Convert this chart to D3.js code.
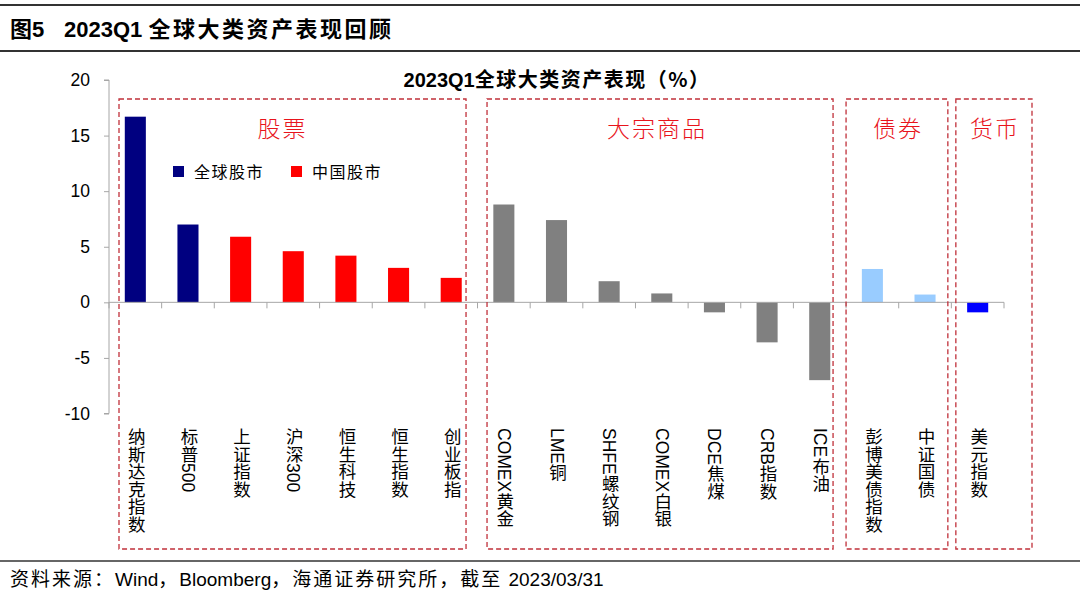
<!DOCTYPE html>
<html>
<head>
<meta charset="utf-8">
<script src="https://cdn.jsdelivr.net/npm/d3@7"></script>
<style>
  body { margin: 0; background: #fff; }
  svg text { font-family: "Liberation Sans", Arial, "Noto Sans CJK SC", sans-serif; }
  .cjk { font-family: "Noto Sans CJK SC", sans-serif; }
</style>
</head>
<body>
<div id="drawing-area" style="width:1080px;height:595px;"></div>
<script>
// data
var categories = ["纳斯达克指数", "标普500", "上证指数", "沪深300", "恒生科技", "恒生指数", "创业板指",
    "COMEX黄金", "LME铜", "SHFE螺纹钢", "COMEX白银", "DCE焦煤", "CRB指数", "ICE布油",
    "彭博美债指数", "中证国债", "美元指数"];
var values = [16.7, 7.0, 5.9, 4.6, 4.2, 3.1, 2.2,
    8.8, 7.4, 1.9, 0.8, -0.9, -3.6, -7.0,
    3.0, 0.7, -0.9];
var kinds = ["global", "global", "china", "china", "china", "china", "china",
    "comm", "comm", "comm", "comm", "comm", "comm", "comm",
    "bond", "bond", "fx"];
var groupNames = ["股票", "大宗商品", "债券", "货币"];
var groupFirst = [0, 7, 14, 16];
var groupLast = [6, 13, 15, 16];
var yTicks = [-10, -5, 0, 5, 10, 15, 20];
var legendKinds = ["global", "china"];
var legendLabels = ["全球股市", "中国股市"];

var colors = { global: "#000080", china: "#FF0000", comm: "#808080", bond: "#99CCFF", fx: "#0000FF" };

var sx = 1080, sy = 595;
var svg = d3.select('#drawing-area').append('svg').attr('width', sx).attr('height', sy);

// figure header
svg.append("line").attr("x1", 0).attr("x2", sx).attr("y1", 5).attr("y2", 5)
    .attr("stroke", "#333").attr("stroke-width", 2);
svg.append("line").attr("x1", 0).attr("x2", sx).attr("y1", 51).attr("y2", 51)
    .attr("stroke", "#333").attr("stroke-width", 2);
var ft = svg.append("text").attr("x", 10).attr("y", 37)
    .attr("font-size", 22).attr("font-weight", "bold").attr("fill", "#000");
ft.append("tspan").attr("class", "cjk").text("图");
ft.append("tspan").text("5");
ft.append("tspan").attr("x", 64).text("2023Q1 ");
ft.append("tspan").attr("class", "cjk").attr("letter-spacing", 2.5).text("全球大类资产表现回顾");

// chart title
var ct = svg.append("text").attr("x", 557).attr("y", 87).attr("text-anchor", "middle")
    .attr("font-size", 20).attr("font-weight", "bold");
ct.append("tspan").text("2023Q1");
ct.append("tspan").attr("class", "cjk").attr("letter-spacing", 1.5).text("全球大类资产表现（%）");

// scales
var x = d3.scaleBand().domain(categories).range([109, 1004]).paddingInner(0.6).paddingOuter(0.3);
var y = d3.scaleLinear().domain([-10, 20]).range([413.5, 80]);
var step = x.step();
var x0 = x.range()[0];
function edge(k) { return x0 + k * step; }

// y axis
var yAxis = svg.append("g").attr("transform", "translate(109,0)")
    .call(d3.axisLeft(y).tickValues(yTicks).tickSize(5).tickPadding(14)
        .tickFormat(function (d) { return String(d); }));
yAxis.selectAll("path, line").attr("stroke", "#A6A6A6");
yAxis.select(".domain").attr("d", "M-5," + y(-10) + "H0V" + y(20) + "H-5");
yAxis.selectAll("text").attr("font-size", 17.5).attr("fill", "#000")
    .attr("font-family", "Liberation Sans, Arial, sans-serif");

// bars
svg.selectAll("rect.bar").data(categories).enter().append("rect")
    .attr("class", "bar")
    .attr("x", function (d) { return x(d); })
    .attr("width", x.bandwidth())
    .attr("y", function (d, i) { return y(Math.max(0, values[i])); })
    .attr("height", function (d, i) { return Math.abs(y(values[i]) - y(0)); })
    .attr("fill", function (d, i) { return colors[kinds[i]]; });

// x axis at zero
var xAxis = svg.append("g");
xAxis.append("line").attr("x1", x0).attr("x2", x.range()[1]).attr("y1", y(0)).attr("y2", y(0))
    .attr("stroke", "#A6A6A6");
xAxis.selectAll("line.tick").data(d3.range(categories.length + 1)).enter().append("line")
    .attr("class", "tick")
    .attr("x1", edge).attr("x2", edge)
    .attr("y1", y(0)).attr("y2", y(0) + 6)
    .attr("stroke", "#A6A6A6");

// category labels (vertical)
svg.selectAll("text.cat").data(categories).enter().append("text")
    .attr("class", "cat")
    .attr("x", function (d) { return x(d) + x.bandwidth() / 2; })
    .attr("y", 428)
    .attr("font-size", 17.5)
    .attr("fill", "#000")
    .style("writing-mode", "vertical-rl")
    .style("font-family", "'Liberation Sans', Arial, 'Noto Sans CJK SC', sans-serif")
    .text(function (d) { return d; });

// group boxes
var boxTop = 99, boxBottom = 549;
var boxPadL = [10, 9.5, 0, 4.5];
var boxPadR = [-11.5, -13, -3.5, 28];
var labelShift = [-10, -3, 1, 1];
groupNames.forEach(function (name, gi) {
    var left = edge(groupFirst[gi]) + boxPadL[gi];
    var right = edge(groupLast[gi] + 1) + boxPadR[gi];
    svg.append("rect")
        .attr("x", left).attr("y", boxTop)
        .attr("width", right - left).attr("height", boxBottom - boxTop)
        .attr("fill", "none").attr("stroke", "#C0303A").attr("stroke-width", 1.3)
        .attr("stroke-dasharray", "5,3");
    svg.append("text").attr("class", "cjk")
        .attr("x", (left + right) / 2 + labelShift[gi]).attr("y", 137)
        .attr("text-anchor", "middle").attr("font-size", 23).attr("font-weight", 300)
        .attr("letter-spacing", 2).attr("fill", "#E8141C")
        .text(name);
});

// legend
var lx = [173, 291];
legendKinds.forEach(function (k, i) {
    svg.append("rect").attr("x", lx[i]).attr("y", 166).attr("width", 11).attr("height", 11)
        .attr("fill", colors[k]);
    svg.append("text").attr("class", "cjk").attr("x", lx[i] + 21).attr("y", 178)
        .attr("font-size", 16).attr("fill", "#000").attr("letter-spacing", 1.5).text(legendLabels[i]);
});

// source
svg.append("line").attr("x1", 0).attr("x2", sx).attr("y1", 561).attr("y2", 561)
    .attr("stroke", "#333").attr("stroke-width", 1.5);
var src = svg.append("text").attr("x", 10).attr("y", 586).attr("font-size", 19).attr("fill", "#000");
src.append("tspan").attr("class", "cjk").attr("letter-spacing", 2).text("资料来源：");
src.append("tspan").text("Wind");
src.append("tspan").attr("class", "cjk").attr("letter-spacing", 2).text("，");
src.append("tspan").text("Bloomberg");
src.append("tspan").attr("class", "cjk").attr("letter-spacing", 2).text("，海通证券研究所，截至 ");
src.append("tspan").text("2023/03/31");
</script>
</body>
</html>
